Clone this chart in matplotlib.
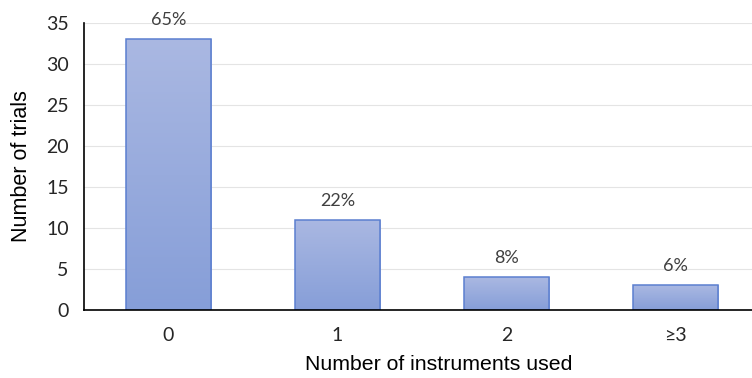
import matplotlib
matplotlib.use("Agg")
import matplotlib.pyplot as plt
import numpy as np
from matplotlib.colors import LinearSegmentedColormap

categories = ["0", "1", "2", "≥3"]
trials = [33, 11, 4, 3]
pct_labels = ["65%", "22%", "8%", "6%"]
yticks = [0, 5, 10, 15, 20, 25, 30, 35]

plt.rcParams['font.family'] = ['Lato', 'DejaVu Sans']

fig = plt.figure(figsize=(7.52, 3.78), dpi=100)
ax = fig.add_axes([0.1117, 0.18, 0.899, 0.759])

x = np.arange(len(categories))
bars = ax.bar(x, trials, width=0.503, color='none', edgecolor='#5b7fd0', linewidth=1.1, zorder=3)

grad = np.linspace(0, 1, 256).reshape(-1, 1)
cmap = LinearSegmentedColormap.from_list('g', ['#869ed8', '#aab8e2'])
for b in bars:
    x0 = b.get_x()
    w = b.get_width()
    h = b.get_height()
    im = ax.imshow(grad, extent=[x0, x0 + w, 0, h], origin='lower', cmap=cmap,
                   aspect='auto', zorder=2)
    im.set_clip_path(b)

for xi, v, lab in zip(x, trials, pct_labels):
    ax.annotate(lab, (xi, v), xytext=(0, 8), textcoords='offset points',
                ha='center', va='bottom', fontsize=13, color='#404040', zorder=4)

ax.set_xlim(-0.5, 3.5)
ax.set_ylim(0, 35)
ax.set_yticks(yticks)
ax.set_xticks(x)
ax.set_xticklabels(categories)
ax.tick_params(axis='both', length=0, labelsize=14, colors='#262626')
ax.tick_params(axis='x', pad=12)
ax.tick_params(axis='y', pad=11)
ax.grid(axis='y', color='#e4e4e4', linewidth=0.8, zorder=0)
ax.set_axisbelow(True)
for s in ['top', 'right']:
    ax.spines[s].set_visible(False)
for s in ['left', 'bottom']:
    ax.spines[s].set_color('#000000')
    ax.spines[s].set_linewidth(1.2)
    ax.spines[s].set_zorder(5)

ax.set_xlabel("Number of instruments used", fontsize=15.3, color='#000000', labelpad=8,
              family=['Liberation Sans', 'DejaVu Sans'])
ax.xaxis.label.set_x(0.525)
ax.set_ylabel("Number of trials", fontsize=15.5, color='#000000', labelpad=10,
              family=['Liberation Sans', 'DejaVu Sans'])

fig.savefig("out.png", dpi=100)
